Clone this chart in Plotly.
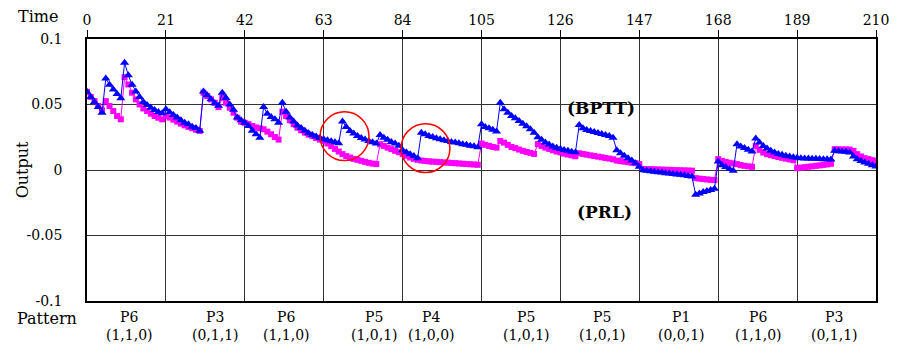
import plotly.graph_objects as go

time_ticks = [0, 21, 42, 63, 84, 105, 126, 147, 168, 189, 210]
y_ticks = [-0.1, -0.05, 0, 0.05, 0.1]
y_tick_text = ["-0.1", "-0.05", "0", "0.05", "0.1"]

pattern_names = ["P6", "P3", "P6", "P5", "P4", "P5", "P5", "P1", "P6", "P3"]
pattern_bits = ["(1,1,0)", "(0,1,1)", "(1,1,0)", "(1,0,1)", "(1,0,0)",
                "(1,0,1)", "(1,0,1)", "(0,0,1)", "(1,1,0)", "(0,1,1)"]
pattern_label_x = [11.3, 34.1, 53.2, 76.5, 91.8, 116.9, 137.3, 158.1, 178.8, 198.9]

bptt = [
    0.0597, 0.0557, 0.052, 0.048, 0.0437, 0.0699, 0.065, 0.0615, 0.058, 0.0547,
    0.0818, 0.0724, 0.065, 0.060, 0.0557, 0.052, 0.0496, 0.0475, 0.0458, 0.0443,
    0.0433, 0.0463, 0.044, 0.042, 0.040, 0.038, 0.036, 0.035, 0.033, 0.032,
    0.030, 0.060, 0.057, 0.054, 0.051, 0.049, 0.059, 0.055, 0.050, 0.046,
    0.040, 0.038, 0.036, 0.0336, 0.030, 0.0273, 0.0247, 0.048, 0.043, 0.0405,
    0.0387, 0.036, 0.0513, 0.0445, 0.040, 0.037, 0.034, 0.032, 0.030, 0.028,
    0.0268, 0.0255, 0.0245, 0.0235, 0.0227, 0.022, 0.0212, 0.0205, 0.037, 0.0329,
    0.0298, 0.0278, 0.026, 0.0245, 0.0232, 0.0222, 0.0212, 0.0202, 0.0268, 0.0247,
    0.023, 0.0214, 0.0202, 0.0186, 0.0151, 0.0136, 0.012, 0.0106, 0.009, 0.0285,
    0.0273, 0.026, 0.0252, 0.0242, 0.0235, 0.0227, 0.0222, 0.0214, 0.0209, 0.0204,
    0.0197, 0.0192, 0.0186, 0.0182, 0.0174, 0.0349, 0.0329, 0.0319, 0.0308, 0.0293,
    0.0513, 0.0463, 0.0437, 0.0412, 0.0395, 0.0374, 0.0354, 0.0334, 0.0311, 0.0285,
    0.025, 0.023, 0.021, 0.0195, 0.018, 0.017, 0.016, 0.0152, 0.0146, 0.014,
    0.0135, 0.0344, 0.0319, 0.0306, 0.0298, 0.029, 0.0283, 0.0275, 0.0268, 0.026,
    0.0247, 0.0150, 0.0128, 0.0108, 0.0090, 0.0072, 0.0052, 0.0025, -0.0002, -0.0006,
    -0.001, -0.0013, -0.0017, -0.002, -0.0024, -0.0027, -0.003, -0.0034, -0.0037, -0.0041,
    -0.0045, -0.005, -0.0189, -0.0179, -0.0168, -0.016, -0.0153, -0.0143, 0.0065, 0.0037,
    0.0022, 0.0007, -0.0006, 0.0197, 0.0179, 0.0167, 0.0154, 0.0141, 0.024, 0.0209,
    0.0184, 0.0164, 0.0146, 0.0133, 0.0123, 0.0116, 0.0108, 0.0103, 0.0098, 0.0093,
    0.0090, 0.0088, 0.0087, 0.0086, 0.0085, 0.0084, 0.0083, 0.0082, 0.0081, 0.0146,
    0.0144, 0.0142, 0.0140, 0.0133, 0.0103, 0.0083, 0.0068, 0.0057, 0.0047, 0.0037,
    0.0027,
]

prl = [
    0.0597, 0.0557, 0.0526, 0.0488, 0.0455, 0.0526, 0.0488, 0.045, 0.0412, 0.0387,
    0.0709, 0.0653, 0.059, 0.0539, 0.0501, 0.047, 0.045, 0.043, 0.0412, 0.0399,
    0.0387, 0.0412, 0.04, 0.0384, 0.0369, 0.0354, 0.0341, 0.0329, 0.0319, 0.0308,
    0.0298, 0.059, 0.0564, 0.0539, 0.0513, 0.048, 0.0551, 0.0513, 0.0475, 0.0437,
    0.0399, 0.0369, 0.036, 0.035, 0.0336, 0.0325, 0.0318, 0.0311, 0.0293, 0.0273,
    0.0252, 0.0232, 0.0445, 0.0412, 0.038, 0.035, 0.0323, 0.0303, 0.0285, 0.027,
    0.0258, 0.0245, 0.0232, 0.0222, 0.0202, 0.0182, 0.0161, 0.0141, 0.0121, 0.0106,
    0.0095, 0.0085, 0.0078, 0.007, 0.0062, 0.0055, 0.0049, 0.0045, 0.0197, 0.0184,
    0.0171, 0.0159, 0.0146, 0.0136, 0.0121, 0.0108, 0.0095, 0.0085, 0.0078, 0.0072,
    0.0069, 0.0066, 0.0064, 0.0062, 0.006, 0.0058, 0.0056, 0.0054, 0.0052, 0.005,
    0.0048, 0.0046, 0.0044, 0.0042, 0.004, 0.0202, 0.0192, 0.0184, 0.0176, 0.0171,
    0.0222, 0.0209, 0.0192, 0.0176, 0.0167, 0.0156, 0.0146, 0.0138, 0.0131, 0.0123,
    0.0197, 0.0184, 0.0171, 0.0161, 0.0151, 0.0141, 0.0135, 0.0125, 0.0118, 0.0112,
    0.0105, 0.0128, 0.0122, 0.0117, 0.0112, 0.0107, 0.0102, 0.0097, 0.0092, 0.0087,
    0.0082, 0.0072, 0.0068, 0.0064, 0.006, 0.0056, 0.0052, 0.0045, 0.0008, 0.0007,
    0.0006, 0.0005, 0.0004, 0.0003, 0.0002, 0.0001, 0.0, -0.0001, -0.0002, -0.0003,
    -0.0004, -0.0005, -0.0062, -0.0066, -0.0069, -0.0072, -0.0075, -0.0077, 0.0083, 0.007,
    0.0062, 0.0055, 0.005, 0.0045, 0.0037, 0.0032, 0.0028, 0.0024, 0.0184, 0.0154,
    0.0133, 0.0121, 0.0113, 0.0106, 0.0099, 0.0093, 0.0087, 0.0081, 0.0075, 0.0014,
    0.0018, 0.0021, 0.0025, 0.0028, 0.0032, 0.0035, 0.0039, 0.0043, 0.0047, 0.0159,
    0.0158, 0.0157, 0.0157, 0.0156, 0.0146, 0.0121, 0.0103, 0.009, 0.0083, 0.0075,
    0.0068,
]

time = list(range(len(bptt)))

# highlighted regions (centre t, centre value, half-width t, half-height value)
circles = [(68.55, 0.0258, 6.5, 0.0186), (90.1, 0.0167, 6.5, 0.0186)]

SERIF = "DejaVu Serif"

fig = go.Figure()
fig.add_trace(go.Scatter(
    x=time, y=prl, mode="lines+markers", name="PRL",
    line=dict(color="#FF00FF", width=1),
    marker=dict(symbol="square", size=6, color="#FF00FF"),
))
fig.add_trace(go.Scatter(
    x=time, y=bptt, mode="lines+markers", name="BPTT",
    line=dict(color="#0000FF", width=1),
    marker=dict(symbol="triangle-up", size=8, color="#0000FF"),
))

for cx, cy, rx, ry in circles:
    fig.add_shape(type="circle", xref="x", yref="y",
                  x0=cx - rx, x1=cx + rx, y0=cy - ry, y1=cy + ry,
                  line=dict(color="#FF0000", width=1.5))

annotations = []
for name, bits, lx in zip(pattern_names, pattern_bits, pattern_label_x):
    annotations.append(dict(x=lx, y=-0.097, xref="x", yref="paper",
                            text=name + "<br>" + bits,
                            showarrow=False, font=dict(size=14, color="black", family=SERIF),
                            xanchor="center", yanchor="middle", align="center"))
annotations += [
    dict(x=-0.062, y=1.086, xref="paper", yref="paper", text="Time", showarrow=False,
         font=dict(size=16, color="black", family=SERIF), xanchor="center", yanchor="middle"),
    dict(x=-0.051, y=-0.066, xref="paper", yref="paper", text="Pattern", showarrow=False,
         font=dict(size=16, color="black", family=SERIF), xanchor="center", yanchor="middle"),
    dict(x=-0.082, y=0.5, xref="paper", yref="paper", text="Output", showarrow=False,
         textangle=-90, font=dict(size=16, color="black", family=SERIF),
         xanchor="center", yanchor="middle"),
    dict(x=136.7, y=0.047, xref="x", yref="y", text="<b>(BPTT)</b>", showarrow=False,
         font=dict(size=17, color="black", family=SERIF), xanchor="center", yanchor="middle"),
    dict(x=137.8, y=-0.032, xref="x", yref="y", text="<b>(PRL)</b>", showarrow=False,
         font=dict(size=17, color="black", family=SERIF), xanchor="center", yanchor="middle"),
]

fig.update_layout(
    width=901, height=349,
    margin=dict(l=87, r=22, t=38, b=48),
    paper_bgcolor="white", plot_bgcolor="white",
    showlegend=False,
    font=dict(family=SERIF, color="black", size=14),
    annotations=annotations,
    xaxis=dict(range=[0, 210], side="top", tickvals=time_ticks,
               ticks="outside", ticklen=7, tickcolor="black", tickwidth=1,
               showgrid=True, gridcolor="#333333", gridwidth=1,
               showline=True, linecolor="black", linewidth=1.5, mirror=True,
               zeroline=False, tickfont=dict(size=14, family=SERIF)),
    yaxis=dict(range=[-0.1, 0.1], tickvals=y_ticks, ticktext=y_tick_text,
               showgrid=True, gridcolor="#333333", gridwidth=1,
               showline=True, linecolor="black", linewidth=1.5, mirror=True,
               zeroline=False, ticks="", ticklabelstandoff=20,
               tickfont=dict(size=14, family=SERIF)),
)

fig.write_html("out.html", config={"displayModeBar": False},
               post_script="document.body.style.margin='0px';document.body.style.padding='0px';")
